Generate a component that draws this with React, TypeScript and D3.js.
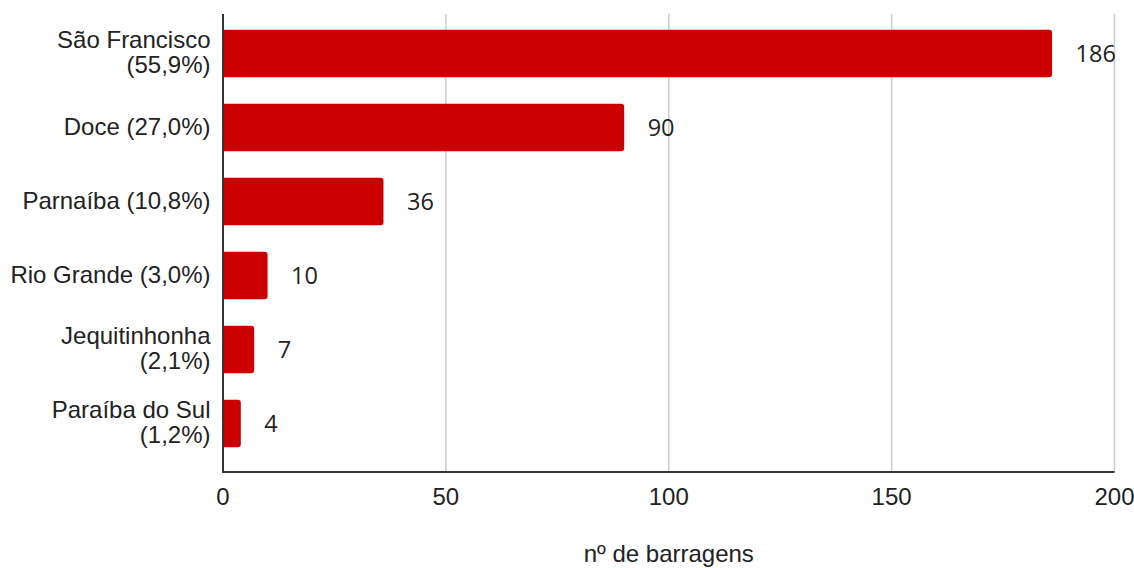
import React from "react";
import * as d3 from "d3";

const categoryLines: string[][] = [
  ["São Francisco", "(55,9%)"],
  ["Doce (27,0%)"],
  ["Parnaíba (10,8%)"],
  ["Rio Grande (3,0%)"],
  ["Jequitinhonha", "(2,1%)"],
  ["Paraíba do Sul", "(1,2%)"],
];
const categories = categoryLines.map((l) => l.join(" "));
const values = [186, 90, 36, 10, 7, 4];
const xTicks = [0, 50, 100, 150, 200];
const xTitle = "nº de barragens";

const W = 1134;
const H = 568;
const left = 223;
const right = 1114.5;
const top = 14;
const bottom = 472;

export default function App() {
  const x = d3.scaleLinear().domain([0, 200]).range([left, right]);
  const y = d3
    .scaleBand<string>()
    .domain(categories)
    .range([16.5, 460.5])
    .paddingInner(0.36)
    .paddingOuter(0.18);
  const font = "'Liberation Sans', Arial, sans-serif";
  const valFont = "'Open Sans', 'Noto Sans', sans-serif";
  const r = 3;
  const barPath = (v: number, yy: number, h: number) => {
    const x0 = x(0);
    const x1 = x(v);
    const rr = Math.min(r, (x1 - x0) / 2);
    return `M${x0},${yy}H${x1 - rr}Q${x1},${yy} ${x1},${yy + rr}V${yy + h - rr}Q${x1},${yy + h} ${x1 - rr},${yy + h}H${x0}Z`;
  };
  return (
    <svg
      width={W}
      height={H}
      style={{ position: "absolute", left: 0, top: 0, background: "#fff" }}
      fontFamily={font}
    >
      {xTicks.slice(1).map((t) => (
        <line key={t} x1={x(t)} x2={x(t)} y1={top} y2={bottom} stroke="#cccccc" strokeWidth={1.5} />
      ))}
      {categories.map((c, i) => {
        const yy = y(c)!;
        const h = y.bandwidth();
        const cy = yy + h / 2;
        const lines = categoryLines[i];
        return (
          <g key={c}>
            <path d={barPath(values[i], yy, h)} fill="#cc0000" />
            <text
              x={x(values[i]) + 23.5}
              y={cy + 8.5}
              fontSize={23.5}
              fontFamily={valFont}
              fill="#222"
            >
              {values[i]}
            </text>
            {lines.map((ln, j) => (
              <text
                key={j}
                x={210.5}
                y={cy + 7 + (j - (lines.length - 1) / 2) * 25}
                textAnchor="end"
                fontSize={24}
                fill="#222"
              >
                {ln}
              </text>
            ))}
          </g>
        );
      })}
      <line x1={x(0)} x2={x(0)} y1={top} y2={bottom} stroke="#333" strokeWidth={2} />
      <line x1={x(0) - 1} x2={right} y1={bottom} y2={bottom} stroke="#333" strokeWidth={2} />
      {xTicks.map((t) => (
        <text key={t} x={x(t)} y={505} textAnchor="middle" fontSize={24} fill="#222">
          {t}
        </text>
      ))}
      <text x={(left + right) / 2} y={562} textAnchor="middle" fontSize={24} fill="#222">
        {xTitle}
      </text>
    </svg>
  );
}
